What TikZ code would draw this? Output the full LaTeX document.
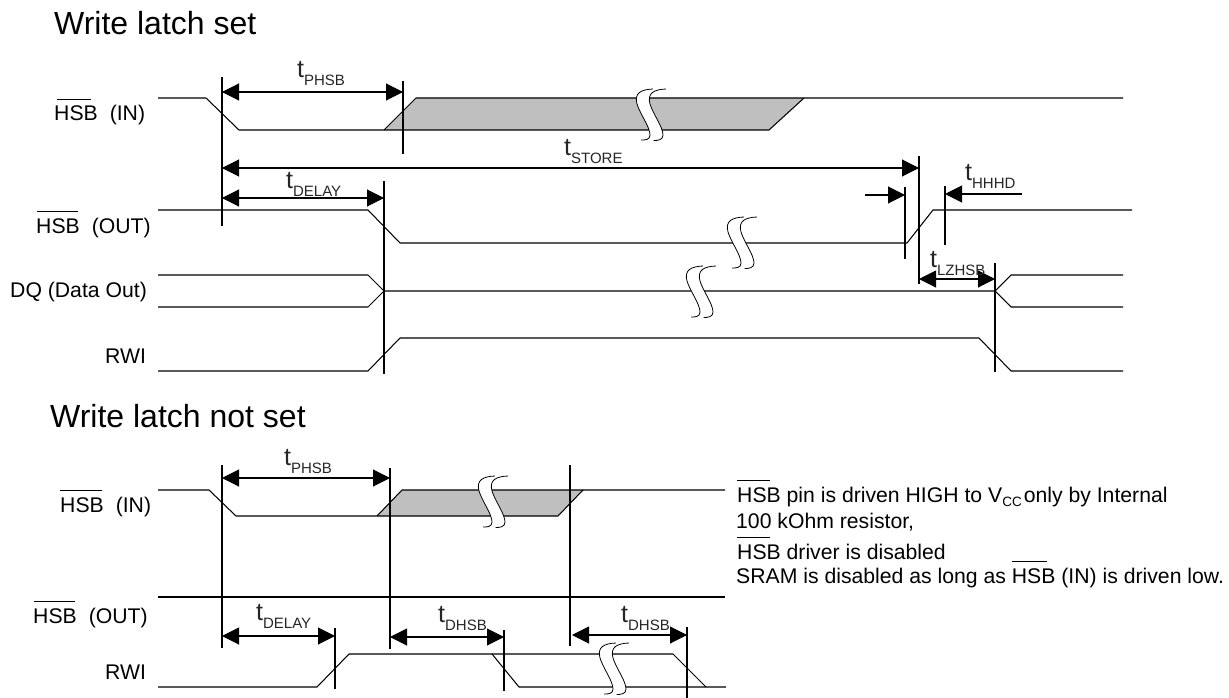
\documentclass[tikz,border=0pt]{standalone}
\usepackage{fontspec}
\setmainfont{Liberation Sans}
\usetikzlibrary{arrows.meta}
\newcommand{\fsz}[2]{{\fontsize{#1pt}{#1pt}\selectfont #2}}
\newcommand{\tlab}[1]{\fsz{25}{t}\fsz{15}{\raisebox{-8pt}{#1}}}
\newcommand{\hsb}[2]{\rlap{\hspace{#1}\rule[21pt]{#2}{1pt}}HSB}
\newcommand{\squig}[2]{%
 \begin{scope}[shift={(#1,#2)}]
 \fill[white] (0,0) .. controls (-12,0.5) and (-19,4) .. (-16,15) .. controls (-13,25) and (-3,38) .. (-3,46) .. controls (-3,51) and (-8,51) .. (-12,51)
  -- (0.7,51.5) .. controls (5,51.5) and (10,51) .. (10,46) .. controls (10,38) and (0,25) .. (-3,15) .. controls (-6,4) and (1,0.5) .. (13,0) -- cycle;
 \draw[line width=0.8pt] (0,0) .. controls (-12,0.5) and (-19,4) .. (-16,15) .. controls (-13,25) and (-3,38) .. (-3,46) .. controls (-3,51) and (-8,51) .. (-12,51);
 \draw[line width=0.8pt] (13,0) .. controls (1,0.5) and (-6,4) .. (-3,15) .. controls (0,25) and (10,38) .. (10,46) .. controls (10,51) and (5,51.5) .. (0.7,51.5);
 \end{scope}}
\definecolor{greyfill}{HTML}{BFBFBF}
\tikzset{x=1pt,y=-1pt,
 wave/.style={line width=1.05pt,line join=miter},
 vmark/.style={line width=1.05pt},
 dim/.style={line width=1.05pt,{Triangle[length=17pt,width=17pt]}-{Triangle[length=17pt,width=17pt]}},
 dimR/.style={line width=1.05pt,-{Triangle[length=17pt,width=17pt]}},
 lab/.style={inner sep=0pt,anchor=base west,text=black!85},
 ttl/.style={inner sep=0pt,anchor=base west,font=\fontsize{32}{32}\selectfont},
 txt/.style={inner sep=0pt,anchor=base west,font=\fontsize{21.2}{21.2}\selectfont},
}
\begin{document}
\begin{tikzpicture}
\useasboundingbox (0,0) rectangle (1229,698);
\fill[white] (0,0) rectangle (1229,698);
% titles
\node[ttl] (title1) at (54,35) {Write latch set};
\node[ttl] (title2) at (50,427) {Write latch not set};
% left labels
\node[txt] (l1) at (54,121) {\hsb{3pt}{34pt}\hspace{12pt}(IN)};
\node[txt] (l2) at (36,233) {\hsb{1pt}{41pt}\hspace{12pt}(OUT)};
\node[txt] (l3) at (10,297) {DQ (Data Out)};
\node[txt] (l4) at (105,363) {RWI};
\node[txt] (l5) at (60,512) {\hsb{0pt}{42pt}\hspace{12pt}(IN)};
\node[txt] (l6) at (33,623) {\hsb{1pt}{41pt}\hspace{12pt}(OUT)};
\node[txt] (l7) at (105,679) {RWI};
% top waves
\fill[greyfill] (384,130) -- (416,98) -- (804,98) -- (769,130) -- cycle;
\draw[wave] (158,98) -- (206,98) -- (239,130) -- (769,130) -- (804,98);
\draw[wave] (384,130) -- (416,98) -- (1123,98);
\draw[wave] (158,210) -- (368,210) -- (400,243) -- (907,243) -- (933,210) -- (1132,210);
\draw[wave] (158,275) -- (368,275) -- (384,291) -- (368,307) -- (158,307);
\draw[wave] (384,291) -- (995,291) -- (1011,275) -- (1123,275);
\draw[wave] (995,291) -- (1011,307) -- (1123,307);
\draw[wave] (158,371) -- (368,371) -- (400,338) -- (979,338) -- (1011,371) -- (1123,371);
% top markers
\draw[vmark] (222,77) -- (222,226);
\draw[vmark] (403,81) -- (403,154);
\draw[vmark] (384,181) -- (384,374);
\draw[vmark] (919,156) -- (919,284);
\draw[vmark] (905,187) -- (905,259);
\draw[vmark] (945,186) -- (945,245);
\draw[vmark] (995,263) -- (995,372);
% top dims
\coordinate (a1) at (222,92); \coordinate (a2) at (403,92);
\coordinate (a3) at (222,168); \coordinate (a4) at (919,168);
\coordinate (a5) at (222,198); \coordinate (a6) at (384,198);
\coordinate (a7) at (865,195); \coordinate (a8) at (905,195);
\coordinate (a9) at (1022,194); \coordinate (a10) at (945,194);
\coordinate (a11) at (919,279); \coordinate (a12) at (995,279);
\draw[dim] (a1) -- (a2);
\draw[dim] (a3) -- (a4);
\draw[dim] (a5) -- (a6);
\draw[dimR] (a7) -- (a8);
\draw[dimR] (a9) -- (a10);
\draw[dim] (a11) -- (a12);
\node[lab] (t1) at (297,78) {\tlab{PHSB}};
\node[lab] (t2) at (564,156) {\tlab{STORE}};
\node[lab] (t3) at (286,188) {\tlab{DELAY}};
\node[lab] (t4) at (965,181) {\tlab{HHHD}};
\node[lab] (t5) at (930,267) {\tlab{LZHSB}};
% squiggles top
\squig{653}{89}
\squig{744}{217}
\squig{703}{266}
% bottom waves
\fill[greyfill] (377,516) -- (402,490) -- (583,490) -- (558,516) -- cycle;
\draw[wave] (158,490) -- (209,490) -- (236,516) -- (558,516) -- (583,490) -- (725,490);
\draw[wave] (377,516) -- (402,490) -- (583,490);
\draw[wave] (158,597) -- (725,597);
\draw[wave] (158,687) -- (317,687) -- (349,654) -- (673,654) -- (706,687) -- (726,687);
\draw[wave] (492,654) -- (519,687) -- (706,687);
% bottom markers
\draw[vmark] (222,465) -- (222,648);
\draw[vmark] (390,468) -- (390,649);
\draw[vmark] (570,465) -- (570,646);
\draw[vmark] (335,628) -- (335,689);
\draw[vmark] (504,630) -- (504,691);
\draw[vmark] (687,627) -- (687,698);
\coordinate (b1) at (222,478); \coordinate (b2) at (390,478);
\coordinate (b3) at (222,636); \coordinate (b4) at (335,636);
\coordinate (b5) at (390,637); \coordinate (b6) at (504,637);
\coordinate (b7) at (572,635); \coordinate (b8) at (687,635);
\draw[dim] (b1) -- (b2);
\draw[dim] (b3) -- (b4);
\draw[dim] (b5) -- (b6);
\draw[dim] (b7) -- (b8);
\node[lab] (t6) at (284,465) {\tlab{PHSB}};
\node[lab] (t7) at (256,620) {\tlab{DELAY}};
\node[lab] (t8) at (438,622) {\tlab{DHSB}};
\node[lab] (t9) at (621,622) {\tlab{DHSB}};
\squig{495}{476}
\squig{616}{643}
% note
\node[txt] (n1) at (737,502) {\hsb{0pt}{33pt} pin is driven HIGH to V\raisebox{-4.5pt}{\fontsize{13.5}{13.5}\selectfont CC}\hspace{2pt}only by Internal};
\node[txt] (n2) at (736,528) {100 kOhm resistor,};
\node[txt] (n3) at (737,559) {\hsb{0pt}{33pt} driver is disabled};
\node[txt] (n4) at (736,583) {SRAM is disabled as long as \hsb{0pt}{35pt} (IN) is driven low.};
\end{tikzpicture}
\end{document}
